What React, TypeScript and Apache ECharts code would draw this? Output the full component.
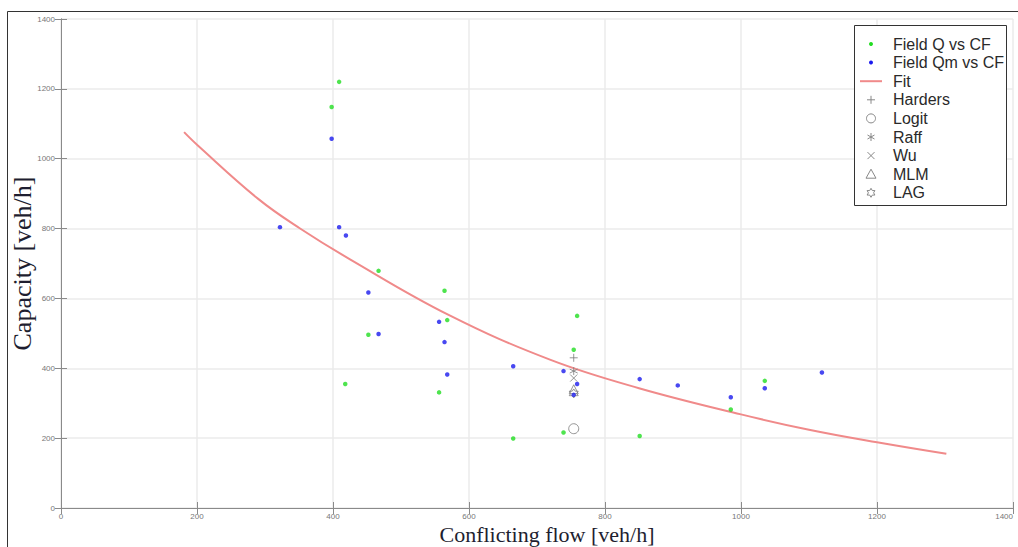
import React, { useEffect, useRef } from "react";
import * as echarts from "echarts";

// Field observations: capacity Q against conflicting flow
const flowFieldQ = [409, 398, 467, 564, 568, 452, 418, 556, 665, 759, 754, 739, 851, 985, 1035];
const capacityFieldQ = [1220, 1148, 679, 622, 538, 496, 355, 331, 199, 550, 453, 216, 206, 282, 364];

// Field observations: capacity Qm against conflicting flow
const flowFieldQm = [322, 398, 409, 419, 452, 556, 467, 564, 568, 665, 739, 759, 754, 851, 907, 985, 1035, 1119];
const capacityFieldQm = [804, 1057, 804, 780, 617, 533, 498, 475, 382, 406, 392, 355, 324, 369, 351, 317, 343, 388];

// Fitted capacity curve
const fitFlow = [181, 200, 290, 351, 425, 570, 720, 850, 1000, 1100, 1200, 1302];
const fitCapacity = [1076, 1040, 885, 801, 712, 553, 424, 343, 268, 224, 188, 155];

// Model estimates at one conflicting flow
const modelNames = ["Harders", "Logit", "Raff", "Wu", "MLM", "LAG"];
const modelFlow = [754, 754, 754, 754, 754, 754];
const modelCapacity = [430, 227, 392, 372, 340, 328];

const axisTicks = { min: 0, max: 1400, interval: 200 };

const plusPath = "path://M5,0L5,10M0,5L10,5";
const asteriskPath = "path://M5,0L5,10M0.67,2.5L9.33,7.5M0.67,7.5L9.33,2.5";
const crossPath = "path://M0,0L10,10M0,10L10,0";
const hexagramPath =
  "path://M5,0L6.44,2.5L9.33,2.5L7.89,5L9.33,7.5L6.44,7.5L5,10L3.56,7.5L0.67,7.5L2.11,5L0.67,2.5L3.56,2.5Z";

const modelSymbols: Record<string, { symbol: string; size: number }> = {
  Harders: { symbol: plusPath, size: 8 },
  Logit: { symbol: "circle", size: 10 },
  Raff: { symbol: asteriskPath, size: 8 },
  Wu: { symbol: crossPath, size: 7 },
  MLM: { symbol: "triangle", size: 9 },
  LAG: { symbol: hexagramPath, size: 9 },
};

const GREEN = "#22dd22";
const BLUE = "#1a1aee";
const FIT = "#f08a8a";
const MODEL = "#7a7a7a";
const AXIS = "#8a8a8a";
const GRIDLINE = "#ebebeb";

const legendLabels = [
  "Field Q vs CF",
  "Field Qm vs CF",
  "Fit",
  "Harders",
  "Logit",
  "Raff",
  "Wu",
  "MLM",
  "LAG",
];

function legendGraphics() {
  const boxX = 854;
  const boxY = 25;
  const iconX = 871;
  const textX = 893;
  const rowY = (i: number) => 44 + i * 18.6;
  const gray = { stroke: "#888", lineWidth: 1, fill: "none" };
  const els: any[] = [
    {
      type: "rect",
      shape: { x: boxX + 0.5, y: boxY + 0.5, width: 152, height: 180 },
      style: { fill: "#fff", stroke: "#333", lineWidth: 1 },
    },
    { type: "circle", shape: { cx: iconX, cy: rowY(0), r: 2 }, style: { fill: GREEN } },
    { type: "circle", shape: { cx: iconX, cy: rowY(1), r: 2 }, style: { fill: BLUE } },
    {
      type: "line",
      shape: { x1: 860, y1: rowY(2), x2: 882, y2: rowY(2) },
      style: { stroke: FIT, lineWidth: 2 },
    },
    { type: "line", shape: { x1: iconX - 4, y1: rowY(3), x2: iconX + 4, y2: rowY(3) }, style: gray },
    { type: "line", shape: { x1: iconX, y1: rowY(3) - 4, x2: iconX, y2: rowY(3) + 4 }, style: gray },
    { type: "circle", shape: { cx: iconX, cy: rowY(4), r: 4.5 }, style: gray },
    { type: "line", shape: { x1: iconX, y1: rowY(5) - 4, x2: iconX, y2: rowY(5) + 4 }, style: gray },
    { type: "line", shape: { x1: iconX - 3.5, y1: rowY(5) - 2, x2: iconX + 3.5, y2: rowY(5) + 2 }, style: gray },
    { type: "line", shape: { x1: iconX - 3.5, y1: rowY(5) + 2, x2: iconX + 3.5, y2: rowY(5) - 2 }, style: gray },
    { type: "line", shape: { x1: iconX - 3.5, y1: rowY(6) - 3.5, x2: iconX + 3.5, y2: rowY(6) + 3.5 }, style: gray },
    { type: "line", shape: { x1: iconX - 3.5, y1: rowY(6) + 3.5, x2: iconX + 3.5, y2: rowY(6) - 3.5 }, style: gray },
    {
      type: "polygon",
      shape: {
        points: [
          [iconX, rowY(7) - 5],
          [iconX + 5, rowY(7) + 4],
          [iconX - 5, rowY(7) + 4],
        ],
      },
      style: gray,
    },
  ];
  // six-pointed star outline for the LAG entry
  const starPts: number[][] = [];
  for (let k = 0; k < 12; k++) {
    const a = ((-90 + 30 * k) * Math.PI) / 180;
    const r = k % 2 === 0 ? 4.5 : 2.6;
    starPts.push([iconX + r * Math.cos(a), rowY(8) + r * Math.sin(a)]);
  }
  els.push({ type: "polygon", shape: { points: starPts }, style: gray });
  legendLabels.forEach((label, i) => {
    els.push({
      type: "text",
      x: textX,
      y: rowY(i),
      style: {
        text: label,
        fill: "#2a2a2a",
        font: '16px "Liberation Sans", Arial, sans-serif',
        textVerticalAlign: "middle",
        verticalAlign: "middle",
      },
    });
  });
  return els.map((e) => ({ ...e, z: 100 }));
}

function frameGraphics() {
  return [
    {
      type: "line",
      shape: { x1: 7.5, y1: 11.5, x2: 1018, y2: 11.5 },
      style: { stroke: "#333", lineWidth: 1 },
      z: 100,
    },
    {
      type: "line",
      shape: { x1: 7.5, y1: 11.5, x2: 7.5, y2: 547 },
      style: { stroke: "#333", lineWidth: 1 },
      z: 100,
    },
  ];
}

export default function App() {
  const ref = useRef<HTMLDivElement>(null);

  useEffect(() => {
    if (!ref.current) return;
    const chart = echarts.init(ref.current, undefined, { renderer: "svg" });

    const tickLabel = {
      fontSize: 8,
      color: "#777",
      fontFamily: '"Liberation Sans", Arial, sans-serif',
      formatter: (v: number) => String(v),
    };
    const serif = '"Liberation Serif", "Times New Roman", serif';

    const baseAxis = {
      type: "value" as const,
      ...axisTicks,
      axisLine: { show: true, lineStyle: { color: AXIS, width: 1 } },
      axisTick: { show: true, inside: true, length: 6, lineStyle: { color: AXIS } },
    };

    const modelSeries = modelNames.map((name, i) => ({
      name,
      type: "scatter",
      symbol: modelSymbols[name].symbol,
      symbolSize: modelSymbols[name].size,
      itemStyle: { color: "none", borderColor: MODEL, borderWidth: 1 },
      data: [[modelFlow[i], modelCapacity[i]]],
      z: 4,
    }));

    chart.setOption({
      animation: false,
      backgroundColor: "#fff",
      grid: {
        left: 61,
        right: 5,
        top: 19,
        bottom: 39,
        containLabel: false,
        outerBoundsMode: "none",
      },
      xAxis: [
        {
          ...baseAxis,
          position: "bottom",
          name: "Conflicting flow [veh/h]",
          nameLocation: "middle",
          nameMoveOverlap: false,
          nameGap: 15,
          nameTextStyle: {
            fontSize: 22,
            lineHeight: 22,
            color: "#1e1e30",
            fontFamily: serif,
            padding: [0, 0, 0, 20],
          },
          axisLabel: { ...tickLabel, margin: 4, alignMaxLabel: "right" },
          splitLine: { show: true, lineStyle: { color: GRIDLINE, width: 1.5 } },
        },
        {
          ...baseAxis,
          position: "top",
          axisLabel: { show: false },
          splitLine: { show: false },
        },
      ],
      yAxis: [
        {
          ...baseAxis,
          position: "left",
          name: "Capacity [veh/h]",
          nameLocation: "middle",
          nameMoveOverlap: false,
          nameGap: 26,
          nameTextStyle: { fontSize: 26, lineHeight: 26, color: "#1e1e30", fontFamily: serif },
          axisLabel: { ...tickLabel, margin: 6 },
          splitLine: { show: true, lineStyle: { color: GRIDLINE, width: 1.5 } },
        },
        {
          ...baseAxis,
          position: "right",
          axisLabel: { show: false },
          splitLine: { show: false },
        },
      ],
      series: [
        {
          name: "Fit",
          type: "line",
          smooth: 0.4,
          showSymbol: false,
          lineStyle: { color: FIT, width: 2 },
          data: fitFlow.map((f, i) => [f, fitCapacity[i]]),
          z: 2,
        },
        {
          name: "Field Q vs CF",
          type: "scatter",
          symbol: "circle",
          symbolSize: 4.5,
          itemStyle: { color: GREEN },
          data: flowFieldQ.map((f, i) => [f, capacityFieldQ[i]]),
          z: 5,
        },
        {
          name: "Field Qm vs CF",
          type: "scatter",
          symbol: "circle",
          symbolSize: 4.5,
          itemStyle: { color: BLUE },
          data: flowFieldQm.map((f, i) => [f, capacityFieldQm[i]]),
          z: 5,
        },
        ...modelSeries,
      ],
      graphic: [...frameGraphics(), ...legendGraphics()],
    });

    return () => chart.dispose();
  }, []);

  return (
    <div
      ref={ref}
      style={{ position: "fixed", left: 0, top: 0, width: 1018, height: 547, background: "#fff" }}
    />
  );
}
